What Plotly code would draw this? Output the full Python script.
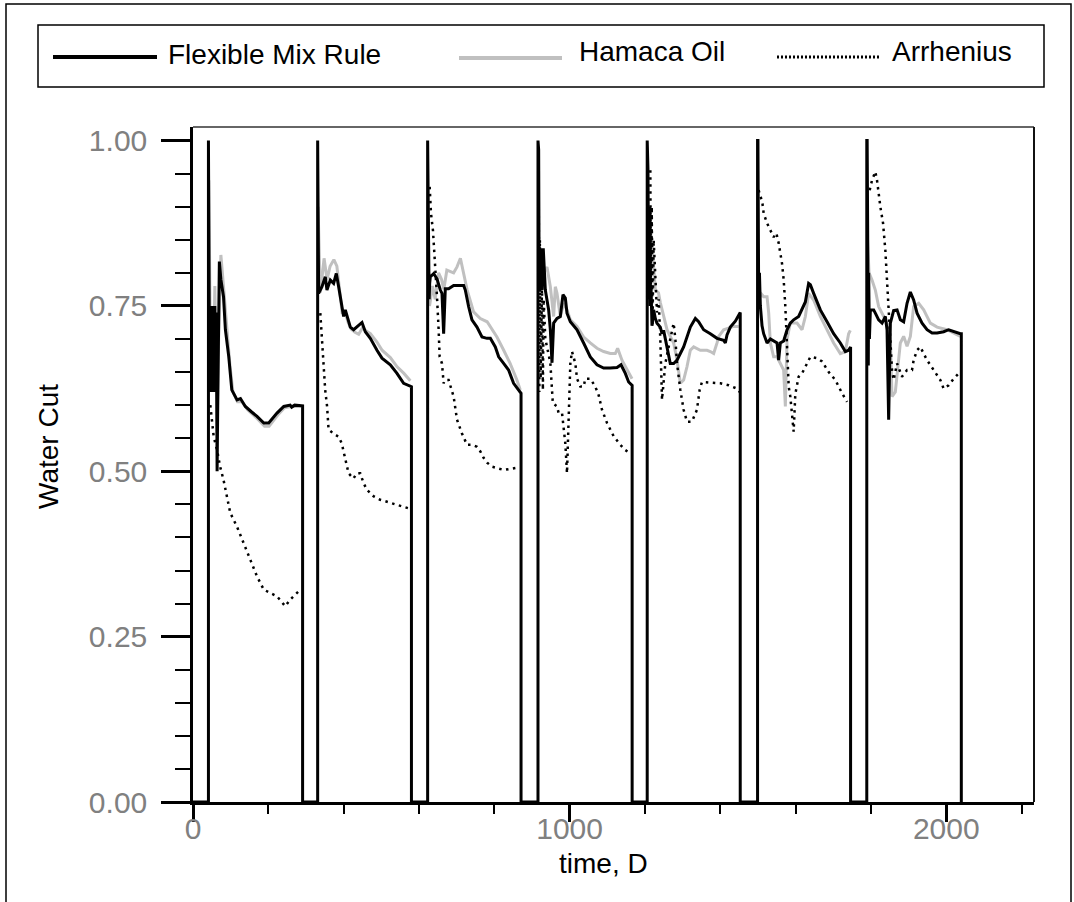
import plotly.graph_objects as go

# ---------------- data ----------------
cycle_start = [41, 331, 623, 916, 1206, 1499, 1789]
cycle_end = [291, 580, 871, 1166, 1453, 1746, 2040]

flex_t = [
    [42, 44, 46, 48, 50, 52, 54, 56, 58, 60, 62, 64, 66, 70, 74, 81, 86, 95, 103, 117, 126, 139, 155, 170, 188, 201, 223, 241, 258, 262, 270, 289],
    [333.6, 342.4, 351.3, 355.7, 364.6, 373.4, 380.5, 386.7, 395.5, 399.9, 404.4, 408.8, 417.7, 426.5, 435.4, 448.7, 457.5, 470.8, 488.5, 501.8, 523.9, 541.6, 559.3, 577],
    [625, 627, 628.4, 630.1, 639, 647.8, 656.7, 661.1, 665.5, 669.9, 678.7, 692, 718.6, 723, 731.9, 740.7, 754, 767.3, 780.7, 789.5, 802.7, 811.6, 824.8, 838, 851.3, 869],
    [917.8, 919, 920.5, 922, 924, 926.6, 930, 935.5, 944.3, 948.8, 953.2, 957.6, 966.5, 975.3, 982.4, 988.6, 993, 1001.9, 1019.6, 1037.2, 1054.9, 1072.7, 1090.3, 1108, 1125.8, 1136.4, 1147.9, 1156.7, 1165.6],
    [1208.1, 1210, 1212, 1214.3, 1216, 1218.7, 1223.1, 1227.6, 1232, 1240.8, 1245.3, 1249.6, 1258.6, 1267.3, 1276.2, 1285.2, 1294, 1302.7, 1320.5, 1333.8, 1342.5, 1355.8, 1373.6, 1391.4, 1408.9, 1413.4, 1417.9, 1426.7, 1440, 1451.4],
    [1500, 1501.9, 1504, 1506.4, 1510.9, 1515.2, 1524.2, 1533, 1541.7, 1550.7, 1555, 1559.5, 1568.3, 1577.3, 1586, 1594.8, 1608.1, 1617.1, 1625.9, 1634.6, 1639.2, 1647.9, 1665.7, 1683.5, 1701, 1718.8, 1732.1, 1740.8, 1745.3],
    [1790, 1791.4, 1793, 1794, 1796, 1798.5, 1807.3, 1811.7, 1820.5, 1829.6, 1838.3, 1842.8, 1847.1, 1851.6, 1860.3, 1869.4, 1878.1, 1886.9, 1895.9, 1904.7, 1913.4, 1922.5, 1935.8, 1949, 1962.4, 1975.7, 1993.1, 2006.4, 2019.7, 2037.5],
]
flex_v = [
    [0.89, 0.62, 0.75, 0.62, 0.74, 0.63, 0.75, 0.62, 0.75, 0.64, 0.74, 0.50, 0.62, 0.817, 0.79, 0.764, 0.714, 0.673, 0.623, 0.608, 0.610, 0.598, 0.590, 0.583, 0.573, 0.573, 0.588, 0.598, 0.600, 0.597, 0.600, 0.599],
    [0.769, 0.779, 0.794, 0.774, 0.789, 0.784, 0.799, 0.779, 0.744, 0.734, 0.744, 0.734, 0.718, 0.714, 0.718, 0.725, 0.711, 0.701, 0.683, 0.671, 0.661, 0.648, 0.633, 0.628],
    [0.86, 0.76, 0.784, 0.794, 0.799, 0.791, 0.774, 0.769, 0.708, 0.776, 0.776, 0.781, 0.781, 0.774, 0.749, 0.729, 0.718, 0.703, 0.701, 0.701, 0.688, 0.673, 0.663, 0.653, 0.633, 0.618],
    [0.986, 0.80, 0.837, 0.774, 0.837, 0.774, 0.837, 0.774, 0.744, 0.714, 0.664, 0.724, 0.731, 0.734, 0.767, 0.762, 0.739, 0.726, 0.714, 0.694, 0.673, 0.661, 0.656, 0.656, 0.657, 0.661, 0.648, 0.635, 0.630],
    [0.955, 0.76, 0.90, 0.75, 0.78, 0.72, 0.744, 0.731, 0.724, 0.718, 0.708, 0.713, 0.688, 0.663, 0.663, 0.668, 0.678, 0.688, 0.718, 0.731, 0.726, 0.714, 0.708, 0.701, 0.698, 0.694, 0.706, 0.718, 0.727, 0.740],
    [1.0, 0.77, 0.80, 0.75, 0.72, 0.708, 0.694, 0.700, 0.697, 0.694, 0.668, 0.694, 0.697, 0.714, 0.724, 0.729, 0.734, 0.744, 0.756, 0.784, 0.782, 0.769, 0.744, 0.726, 0.708, 0.694, 0.681, 0.683, 0.688],
    [1.0, 0.86, 0.66, 0.80, 0.70, 0.744, 0.744, 0.739, 0.729, 0.724, 0.734, 0.714, 0.578, 0.724, 0.743, 0.744, 0.729, 0.726, 0.754, 0.771, 0.759, 0.739, 0.724, 0.714, 0.709, 0.709, 0.711, 0.714, 0.711, 0.708],
]

hamaca_t = [
    [42, 44, 46, 50, 54, 58, 62, 64, 68, 74, 78, 84, 90, 98, 106, 118, 130, 145, 170, 190, 202, 225, 243, 260, 289],
    [332, 334, 338, 344, 348, 356, 364, 374, 382, 390, 396, 404, 412, 420, 430, 440, 450, 460, 471, 489, 502, 524, 542, 560, 577],
    [626, 628, 636, 643, 652, 660, 666, 674, 692, 701, 710, 719, 728, 745, 763, 781, 790, 807, 825, 842, 860, 869],
    [917.8, 926.6, 931, 939.9, 948.8, 957.6, 962, 966.5, 975.3, 984.2, 993, 1001.9, 1019.6, 1037.2, 1054.9, 1072.7, 1090.3, 1108, 1121.3, 1127.5, 1139, 1152.3, 1165.6],
    [1208, 1218.7, 1223.1, 1227.6, 1236, 1240.8, 1249.6, 1258.6, 1267.3, 1276.2, 1285.2, 1294, 1302.7, 1311.6, 1320.5, 1329.4, 1347, 1364.7, 1373.6, 1382.5, 1391.4, 1395.8, 1408.9, 1422.2, 1435.6, 1448.9],
    [1501, 1504, 1506.4, 1515.2, 1524.2, 1528.6, 1533, 1541.7, 1550.7, 1559.5, 1568.3, 1572.8, 1577.3, 1586, 1603.7, 1617.1, 1625.9, 1634.6, 1647.9, 1665.7, 1683.5, 1701, 1718.8, 1732.1, 1740.8, 1745.3],
    [1791, 1795, 1802.9, 1811.7, 1820.5, 1833.9, 1842.8, 1851.6, 1856, 1864.8, 1878.1, 1886.9, 1895.9, 1904.7, 1913.4, 1926.8, 1940.1, 1957.8, 1975.7, 2002, 2019.7, 2037.5],
]
hamaca_v = [
    [0.94, 0.80, 0.70, 0.74, 0.64, 0.78, 0.60, 0.56, 0.70, 0.827, 0.80, 0.76, 0.71, 0.66, 0.62, 0.605, 0.605, 0.593, 0.580, 0.568, 0.568, 0.585, 0.596, 0.598, 0.598],
    [0.90, 0.84, 0.77, 0.80, 0.822, 0.79, 0.81, 0.82, 0.81, 0.77, 0.74, 0.74, 0.725, 0.715, 0.71, 0.707, 0.717, 0.712, 0.708, 0.695, 0.683, 0.672, 0.658, 0.648, 0.637],
    [0.80, 0.75, 0.78, 0.76, 0.80, 0.79, 0.775, 0.804, 0.80, 0.809, 0.822, 0.80, 0.774, 0.741, 0.731, 0.726, 0.718, 0.703, 0.683, 0.663, 0.638, 0.623],
    [0.827, 0.787, 0.80, 0.809, 0.779, 0.734, 0.779, 0.769, 0.734, 0.754, 0.744, 0.729, 0.719, 0.703, 0.694, 0.686, 0.681, 0.678, 0.678, 0.686, 0.668, 0.653, 0.640],
    [0.88, 0.85, 0.81, 0.774, 0.77, 0.755, 0.735, 0.714, 0.704, 0.694, 0.668, 0.633, 0.638, 0.658, 0.683, 0.688, 0.683, 0.683, 0.681, 0.678, 0.694, 0.704, 0.714, 0.716, 0.719, 0.719],
    [0.80, 0.76, 0.77, 0.764, 0.764, 0.739, 0.694, 0.673, 0.673, 0.663, 0.653, 0.598, 0.70, 0.724, 0.724, 0.714, 0.734, 0.769, 0.759, 0.734, 0.714, 0.694, 0.678, 0.681, 0.708, 0.713],
    [0.85, 0.80, 0.789, 0.774, 0.749, 0.734, 0.724, 0.70, 0.613, 0.62, 0.694, 0.704, 0.689, 0.704, 0.749, 0.754, 0.744, 0.724, 0.718, 0.714, 0.709, 0.704],
]

arrh_t = [
    [46, 55, 64, 72, 81, 99, 117, 134, 152, 170, 188, 205, 223, 245, 258, 285],
    [338, 342, 347, 351, 356, 360, 373, 387, 395, 404, 413, 426, 435, 444, 453, 462, 480, 497, 524, 550, 572],
    [628.4, 631.9, 637.2, 640.7, 643.4, 647.8, 652.2, 654.9, 661.1, 665.5, 669.9, 678.7, 692, 701, 714.2, 727.6, 740.8, 754, 763, 772, 781, 794, 825, 856],
    [917.8, 919.5, 921, 923, 926.6, 929, 931, 935.5, 948.8, 955.4, 966.5, 970.9, 979.8, 984.2, 988.6, 993, 997.5, 1001.9, 1006.3, 1015.2, 1019.6, 1028.5, 1037.2, 1041.7, 1054.9, 1068.2, 1077.1, 1086, 1099.3, 1117, 1134.6, 1147.9, 1161.2],
    [1214.3, 1216, 1218, 1220, 1223.1, 1227.6, 1232, 1236.4, 1240.8, 1245.3, 1254.1, 1262.9, 1271.8, 1276.2, 1280.7, 1285.2, 1294, 1302.7, 1311.6, 1324.8, 1338.1, 1345.2, 1351.4, 1373.6, 1400.2, 1422.2, 1444.4, 1451.4],
    [1501.9, 1506.4, 1510.9, 1515.2, 1524.2, 1533, 1541.7, 1548.9, 1555, 1564, 1568.3, 1572.8, 1577.3, 1581.7, 1586, 1590.4, 1594.8, 1599.3, 1608.1, 1617.1, 1625.9, 1639.2, 1656.9, 1670.2, 1687.9, 1705.6, 1723.3, 1736.6],
    [1796.7, 1802.9, 1811.7, 1816.2, 1825, 1832.2, 1838.3, 1842.8, 1847.1, 1851.6, 1856, 1860.3, 1869.4, 1882.5, 1895.9, 1909.1, 1913.4, 1922.5, 1931.2, 1949, 1966.7, 1984.3, 1993.1, 2006.4, 2019.7, 2033],
]
arrh_v = [
    [0.600, 0.552, 0.532, 0.507, 0.487, 0.437, 0.416, 0.391, 0.366, 0.341, 0.321, 0.316, 0.311, 0.296, 0.306, 0.321],
    [0.739, 0.700, 0.664, 0.623, 0.598, 0.563, 0.557, 0.552, 0.542, 0.517, 0.497, 0.489, 0.497, 0.497, 0.482, 0.472, 0.462, 0.457, 0.452, 0.447, 0.444],
    [0.930, 0.890, 0.864, 0.834, 0.800, 0.764, 0.714, 0.673, 0.663, 0.633, 0.638, 0.638, 0.613, 0.578, 0.557, 0.540, 0.540, 0.537, 0.530, 0.520, 0.513, 0.507, 0.502, 0.505],
    [0.950, 0.620, 0.850, 0.640, 0.780, 0.623, 0.760, 0.700, 0.664, 0.603, 0.598, 0.588, 0.588, 0.563, 0.542, 0.497, 0.583, 0.663, 0.681, 0.663, 0.640, 0.628, 0.628, 0.640, 0.640, 0.628, 0.615, 0.593, 0.573, 0.553, 0.540, 0.532, 0.527],
    [0.955, 0.750, 0.900, 0.720, 0.850, 0.800, 0.740, 0.760, 0.700, 0.608, 0.663, 0.688, 0.714, 0.724, 0.700, 0.663, 0.623, 0.593, 0.575, 0.575, 0.593, 0.623, 0.635, 0.634, 0.633, 0.630, 0.625, 0.620],
    [0.925, 0.915, 0.910, 0.890, 0.875, 0.865, 0.854, 0.860, 0.845, 0.814, 0.790, 0.749, 0.694, 0.628, 0.613, 0.588, 0.560, 0.617, 0.643, 0.648, 0.658, 0.673, 0.671, 0.666, 0.650, 0.638, 0.618, 0.605],
    [0.925, 0.940, 0.953, 0.940, 0.900, 0.875, 0.834, 0.784, 0.734, 0.694, 0.653, 0.638, 0.663, 0.643, 0.653, 0.653, 0.668, 0.683, 0.688, 0.668, 0.653, 0.638, 0.625, 0.630, 0.640, 0.648],
]

series_names = ["Flexible Mix Rule", "Hamaca Oil", "Arrhenius"]
x_tick_vals = [0, 1000, 2000]
y_tick_vals = [0.0, 0.25, 0.5, 0.75, 1.0]
y_tick_text = ["0.00", "0.25", "0.50", "0.75", "1.00"]

# ---------------- build line paths ----------------
bx, by = [0], [0.0]
for s, e, ts, vs in zip(cycle_start, cycle_end, flex_t, flex_v):
    bx += [s, s] + ts + [e, e]
    by += [0.0, 1.0] + vs + [vs[-1], 0.0]


def joined(tl, vl):
    xs, ys = [], []
    for ts, vs in zip(tl, vl):
        xs += ts + [None]
        ys += vs + [None]
    return xs, ys


gx, gy = joined(hamaca_t, hamaca_v)
ax_, ay_ = joined(arrh_t, arrh_v)

# ---------------- figure ----------------
W, H = 1074, 902
L, R, T, B = 193, 1034, 127, 802
FONT = "Liberation Sans, Arial, sans-serif"


def fx(px):
    return (px - L) / (R - L)


def fy(py):
    return (B - py) / (B - T)


fig = go.Figure()
fig.add_trace(go.Scatter(x=gx, y=gy, mode="lines", name=series_names[1],
                         line=dict(color="#c0c0c0", width=3), showlegend=False))
fig.add_trace(go.Scatter(x=ax_, y=ay_, mode="lines", name=series_names[2],
                         line=dict(color="black", width=2.5, dash="2.5px,4.5px"), showlegend=False))
fig.add_trace(go.Scatter(x=bx, y=by, mode="lines", name=series_names[0],
                         line=dict(color="black", width=3), showlegend=False))

shapes = [
    # outer border
    dict(type="rect", xref="paper", yref="paper", x0=fx(6), x1=fx(1071), y0=fy(930), y1=fy(4),
         line=dict(color="black", width=1.5), layer="above"),
    # plot frame (top & right)
    dict(type="line", xref="paper", yref="paper", x0=0, x1=1, y0=1, y1=1,
         line=dict(color="#333", width=1.5)),
    dict(type="line", xref="paper", yref="paper", x0=1, x1=1, y0=0, y1=1,
         line=dict(color="#111", width=2)),
    # legend box
    dict(type="rect", xref="paper", yref="paper", x0=fx(38), x1=fx(1044), y0=fy(87), y1=fy(25),
         line=dict(color="black", width=1.5)),
    # legend samples
    dict(type="line", xref="paper", yref="paper", x0=fx(53), x1=fx(157), y0=fy(57), y1=fy(57),
         line=dict(color="black", width=4)),
    dict(type="line", xref="paper", yref="paper", x0=fx(459), x1=fx(562), y0=fy(58), y1=fy(58),
         line=dict(color="#c0c0c0", width=4)),
    dict(type="line", xref="paper", yref="paper", x0=fx(777), x1=fx(879), y0=fy(57), y1=fy(57),
         line=dict(color="black", width=3, dash="2px,2px")),
]

annotations = [
    dict(xref="paper", yref="paper", x=fx(166), y=fy(55), text=series_names[0], showarrow=False,
         xanchor="left", yanchor="middle", font=dict(family=FONT, size=28, color="black")),
    dict(xref="paper", yref="paper", x=fx(577), y=fy(51), text=series_names[1], showarrow=False,
         xanchor="left", yanchor="middle", font=dict(family=FONT, size=28, color="black")),
    dict(xref="paper", yref="paper", x=fx(890), y=fy(51), text=series_names[2], showarrow=False,
         xanchor="left", yanchor="middle", font=dict(family=FONT, size=28, color="black")),
    dict(xref="paper", yref="paper", x=fx(48), y=fy(447), text="Water Cut", showarrow=False,
         textangle=-90, xanchor="center", yanchor="middle",
         font=dict(family=FONT, size=28, color="black")),
    dict(xref="paper", yref="paper", x=fx(603), y=fy(863), text="time, D", showarrow=False,
         xanchor="center", yanchor="middle", font=dict(family=FONT, size=28, color="black")),
]

fig.update_layout(
    width=W, height=H,
    margin=dict(l=L, r=W - R, t=T, b=H - B, pad=0),
    paper_bgcolor="white", plot_bgcolor="white",
    showlegend=False,
    shapes=shapes, annotations=annotations,
    font=dict(family=FONT),
)
fig.update_xaxes(
    range=[0, 2233], showgrid=False, zeroline=False,
    showline=True, linecolor="black", linewidth=2.5,
    ticks="outside", ticklen=17, tickwidth=2.5, tickcolor="black",
    tickvals=x_tick_vals, ticktext=[str(v) for v in x_tick_vals],
    tickfont=dict(family=FONT, size=30, color="#808080"),
    ticklabelstandoff=-19,
    minor=dict(dtick=200, tick0=0, ticks="outside", ticklen=9, tickwidth=1.5, tickcolor="black"),
)
fig.update_yaxes(
    range=[0, 1.0205], showgrid=False, zeroline=False,
    showline=True, linecolor="black", linewidth=2.5,
    ticks="outside", ticklen=29, tickwidth=2.5, tickcolor="black",
    tickvals=y_tick_vals, ticktext=y_tick_text,
    tickfont=dict(family=FONT, size=30, color="#808080"),
    ticklabelstandoff=8,
    minor=dict(dtick=0.05, tick0=0, ticks="outside", ticklen=15, tickwidth=1.5, tickcolor="black"),
)

fig.write_html("out.html")
